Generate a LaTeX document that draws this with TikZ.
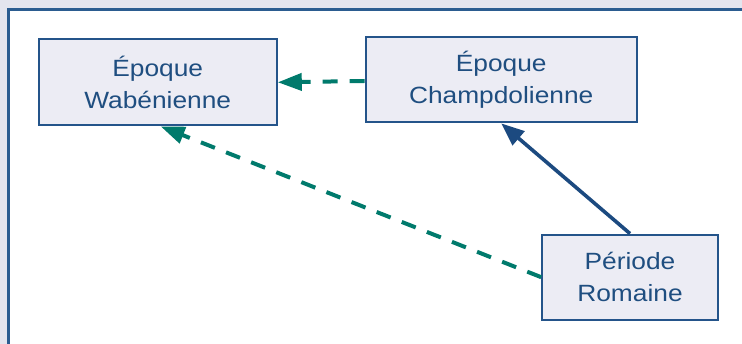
\documentclass[tikz,border=0pt]{standalone}
\usepackage{fontspec}
\newfontfamily\lab{Liberation Sans}[FakeStretch=1.12]
\usetikzlibrary{arrows.meta}
\definecolor{bgout}{HTML}{E4E5EE}
\definecolor{frameblue}{HTML}{2B5C90}
\definecolor{boxfill}{HTML}{ECECF4}
\definecolor{boxline}{HTML}{24548A}
\definecolor{txtblue}{HTML}{1F4E80}
\definecolor{teal}{HTML}{007A6C}
\definecolor{solidblue}{HTML}{1C4A80}
\tikzset{
  period/.style={draw=boxline, line width=2.2pt, fill=boxfill, text=txtblue,
    align=center, inner sep=0pt, font=\lab\fontsize{23.5}{32}\selectfont},
  dasharrow/.style={draw=teal, line width=4pt, dash pattern=on 15pt off 12pt,
    -{Triangle[length=24pt,width=17pt]}},
  solidarrow/.style={draw=solidblue, line width=3.6pt,
    -{Triangle[length=23pt,width=18pt]}}
}
\begin{document}
\begin{tikzpicture}[x=1pt,y=-1pt]
\useasboundingbox (0,0) rectangle (742,344);
\fill[bgout] (0,0) rectangle (742,344);
\filldraw[fill=white, draw=frameblue, line width=2.4pt] (8.5,9.5) rectangle (760,360);
\node[period, minimum width=238pt, minimum height=86pt] (A) at (157.7,82.3) {Époque\\Wabénienne};
\node[period, minimum width=271pt, minimum height=85.6pt] (B) at (501.2,79.5) {Époque\\Champdolienne};
\node[period, minimum width=175.4pt, minimum height=85pt] (C) at (630,277.2) {Période\\Romaine};
\draw[dasharrow] ([yshift=-1.5pt]B.west) -- (A.east);
\draw[dasharrow] (C.west) -- ([xshift=3pt]A.south);
\draw[solidarrow] (C.north) -- (B.south);
\end{tikzpicture}
\end{document}
